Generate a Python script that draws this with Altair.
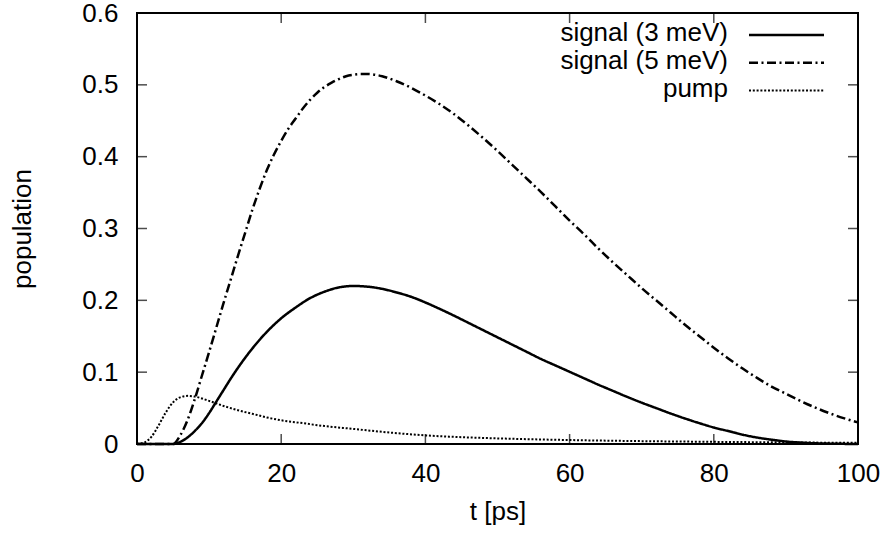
import altair as alt
import pandas as pd

# ---- data ----
t_3mev = [0, 5, 6, 7, 8, 9, 10, 11, 12, 13, 14, 15, 16, 17, 18, 19, 20, 22, 24, 26, 28, 30, 32, 34,
          36, 38, 40, 42, 44, 46, 48, 50, 52, 54, 56, 58, 60, 62, 64, 66, 68, 70, 72, 74, 76, 78,
          80, 82, 84, 86, 88, 90, 92, 94, 96, 100]
v_3mev = [0, 0, 0.003, 0.009, 0.018, 0.029, 0.043, 0.059, 0.075, 0.091, 0.106, 0.12, 0.133, 0.145,
          0.156, 0.166, 0.175, 0.19, 0.203, 0.212, 0.218, 0.22, 0.219, 0.216, 0.211, 0.205, 0.197,
          0.188, 0.1785, 0.1685, 0.1585, 0.1485, 0.1385, 0.1285, 0.1185, 0.1095, 0.1005, 0.0915,
          0.0825, 0.074, 0.0655, 0.0575, 0.05, 0.0425, 0.0355, 0.029, 0.023, 0.018, 0.013, 0.009,
          0.006, 0.0035, 0.002, 0.001, 0.0005, 0]

t_5mev = [0, 5, 6, 7, 8, 9, 10, 11, 12, 13, 14, 15, 16, 17, 18, 19, 20, 21, 22, 23, 24, 25, 26, 27,
          28, 29, 30, 31, 32, 34, 36, 38, 40, 42, 44, 46, 48, 50, 52, 54, 56, 58, 60, 62, 64, 66, 68,
          70, 72, 74, 76, 78, 80, 82, 84, 86, 88, 90, 92, 94, 96, 98, 100]
v_5mev = [0, 0, 0.012, 0.033, 0.062, 0.095, 0.128, 0.162, 0.196, 0.229, 0.262, 0.294, 0.326, 0.355,
          0.381, 0.403, 0.422, 0.439, 0.453, 0.467, 0.479, 0.489, 0.497, 0.503, 0.508, 0.512, 0.514,
          0.515, 0.515, 0.512, 0.505, 0.496, 0.485, 0.473, 0.459, 0.443, 0.426, 0.408, 0.389, 0.37,
          0.351, 0.331, 0.311, 0.292, 0.272, 0.253, 0.235, 0.217, 0.2, 0.183, 0.166, 0.15, 0.134,
          0.119, 0.105, 0.092, 0.08, 0.07, 0.06, 0.051, 0.043, 0.036, 0.03]

t_pump = [0, 1, 2, 3, 4, 5, 6, 7, 8, 10, 12, 14, 16, 18, 20, 23, 26, 30, 35, 40, 45, 50, 60, 70, 80,
          90, 100]
v_pump = [0, 0.002, 0.01, 0.026, 0.044, 0.058, 0.065, 0.067, 0.066, 0.06, 0.053, 0.047, 0.042, 0.037,
          0.033, 0.029, 0.025, 0.021, 0.016, 0.012, 0.0095, 0.0078, 0.0055, 0.004, 0.003, 0.0022,
          0.0016]

series_names = ["signal (3 meV)", "signal (5 meV)", "pump"]
x_ticks = [0, 20, 40, 60, 80, 100]
y_ticks = [0, 0.1, 0.2, 0.3, 0.4, 0.5, 0.6]

# ---- styling ----
FONT = "Liberation Sans"
FS = 26
W, H = 721, 431
dashes = {
    "signal (3 meV)": [1, 0],
    "signal (5 meV)": [9, 3.5, 2, 3.5],
    "pump": [2, 1.8],
}
widths = {"signal (3 meV)": 2.5, "signal (5 meV)": 2.5, "pump": 2.0}

xscale = alt.Scale(domain=[0, 100], nice=False, zero=False)
yscale = alt.Scale(domain=[0, 0.6], nice=False, zero=False)
xaxis = alt.Axis(title="t [ps]", values=x_ticks, format="d", ticks=False, tickSize=0,
                 domain=False, grid=False, labelPadding=16, titlePadding=12,
                 labelFlush=False, labelOverlap=False)
yaxis = alt.Axis(title="population", values=y_ticks,
                 labelExpr="datum.value == 0 ? '0' : format(datum.value, '.1f')",
                 ticks=False, tickSize=0, domain=False, grid=False, labelPadding=19,
                 titlePadding=46, labelFlush=False, labelOverlap=False)

def X():
    return alt.X("t:Q", scale=xscale, axis=xaxis)

def Y():
    return alt.Y("v:Q", scale=yscale, axis=yaxis)

dfs = {
    "signal (3 meV)": pd.DataFrame({"t": t_3mev, "v": v_3mev}),
    "signal (5 meV)": pd.DataFrame({"t": t_5mev, "v": v_5mev}),
    "pump": pd.DataFrame({"t": t_pump, "v": v_pump}),
}

layers = []
for name in series_names:
    layers.append(
        alt.Chart(dfs[name]).mark_line(
            color="black", strokeWidth=widths[name], strokeDash=dashes[name],
            interpolate="monotone", strokeCap="butt"
        ).encode(x=X(), y=Y())
    )

# inward ticks on all four sides
xt = pd.DataFrame({"t": x_ticks})
yt = pd.DataFrame({"v": y_ticks})
for ypos in [H - 5, 5]:
    layers.append(
        alt.Chart(xt).mark_tick(color="black", size=10, thickness=1.5, orient="vertical")
        .encode(x=X(), y=alt.value(ypos))
    )
for xpos in [5, W - 5]:
    layers.append(
        alt.Chart(yt).mark_tick(color="black", size=10, thickness=1.5, orient="horizontal")
        .encode(y=Y(), x=alt.value(xpos))
    )

# gnuplot-style key (text right-aligned, sample to the right)
key_text_x = 591
key_line_x1, key_line_x2 = 612, 687
key_y0, key_step = 22, 27.8
for i, name in enumerate(series_names):
    ly = key_y0 + i * key_step
    layers.append(
        alt.Chart(pd.DataFrame({"label": [name]})).mark_text(
            align="right", baseline="alphabetic", font=FONT, fontSize=FS, color="black"
        ).encode(text="label:N", x=alt.value(key_text_x), y=alt.value(ly + 6))
    )
    layers.append(
        alt.Chart(pd.DataFrame({"label": [name]})).mark_rule(
            color="black", strokeWidth=widths[name], strokeDash=dashes[name], strokeCap="butt"
        ).encode(x=alt.value(key_line_x1), x2=alt.value(key_line_x2), y=alt.value(ly))
    )

chart = alt.layer(*layers).properties(
    width=W, height=H,
    padding={"left": 137, "top": 13, "right": 30, "bottom": 89},
    autosize=alt.AutoSizeParams(type="none"),
    background="white",
).configure_view(
    stroke="black", strokeWidth=2
).configure_axis(
    labelFont=FONT, labelFontSize=FS, labelColor="black",
    titleFont=FONT, titleFontSize=FS, titleColor="black", titleFontWeight="normal",
)

chart.save("out.html", embed_options={"renderer": "svg", "actions": False})
